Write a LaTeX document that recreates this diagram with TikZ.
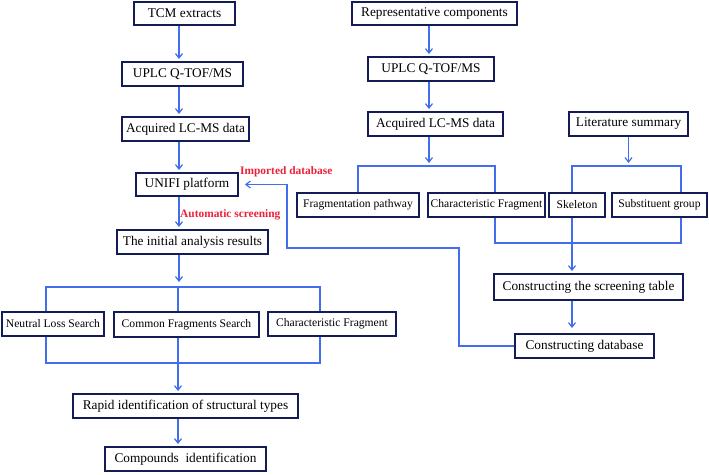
\documentclass[tikz,border=0pt]{standalone}
\usepackage{fontspec}
\setmainfont{Liberation Serif}
\usetikzlibrary{arrows.meta}
\definecolor{linkblue}{RGB}{66,110,238}
\definecolor{boxnavy}{RGB}{20,28,88}
\definecolor{labelred}{RGB}{236,32,56}
\begin{document}
\begin{tikzpicture}[x=1pt,y=-1pt,
  box/.style={draw=boxnavy,line width=1.9pt,minimum height=24pt,inner sep=0pt,font=\fontsize{13.3}{15}\selectfont},
  smallbox/.style={box,font=\fontsize{11.6}{13}\selectfont},
  link/.style={draw=linkblue,line width=1.2pt},
  arr/.style={link,-{Straight Barb[length=4.5pt,width=7pt]},shorten >=2pt},
  note/.style={text=labelred,font=\fontsize{11.4}{13}\selectfont\bfseries,inner sep=0pt}]
\useasboundingbox (0,0) rectangle (709,474);

\node[box,minimum width=101pt,minimum height=23pt] (tcm) at (184.5,13.5) {TCM extracts};
\node[box,minimum width=121pt] (uplcL) at (182.5,74) {UPLC Q-TOF/MS};
\node[box,minimum width=127pt] (acqL) at (185.5,129) {Acquired LC-MS data};
\node[box,minimum width=102pt,minimum height=23pt] (unifi) at (187,184.5) {UNIFI platform};
\node[box,minimum width=151pt] (init) at (192.5,242) {The initial analysis results};
\node[smallbox,minimum width=102pt] (nls) at (53,324) {Neutral Loss Search};
\node[smallbox,minimum width=145pt,minimum height=25pt] (cfs) at (186.5,324.5) {Common Fragments Search};
\node[smallbox,minimum width=128pt] (chfL) at (332,324) {Characteristic Fragment};
\node[box,minimum width=225pt] (rapid) at (185.5,406) {Rapid identification of structural types};
\node[box,minimum width=161pt] (comp) at (185.5,459) {Compounds\ \ identification};

\node[box,minimum width=165pt,minimum height=23pt] (rep) at (434.5,13.5) {Representative components};
\node[box,minimum width=126pt] (uplcR) at (431,69) {UPLC Q-TOF/MS};
\node[box,minimum width=135pt] (acqR) at (435.5,124) {Acquired LC-MS data};
\node[box,minimum width=119pt] (lit) at (628.5,124) {Literature summary};
\node[smallbox,minimum width=122pt] (frag) at (358,205) {Fragmentation pathway};
\node[smallbox,minimum width=117pt] (chfR) at (486.5,205) {Characteristic Fragment};
\node[smallbox,minimum width=56pt] (skel) at (577,205) {Skeleton};
\node[smallbox,minimum width=95pt] (subst) at (659.5,205) {Substituent group};
\node[box,minimum width=189pt,minimum height=26pt] (table) at (588.5,287) {Constructing the screening table};
\node[box,minimum width=139pt] (db) at (584.5,346) {Constructing database};

\node[note,anchor=west] (imported) at (240,172) {Imported database};
\node[note,anchor=west] (autoscr) at (180,215) {Automatic screening};

\coordinate (spine) at (179,0);
\coordinate (topA) at (46,287);
\coordinate (topB) at (178,287);
\coordinate (topC) at (320,287);
\coordinate (botA) at (46,363);
\coordinate (botB) at (178,363);
\coordinate (botC) at (320,363);
\draw[arr] (tcm.south -| spine) -- (uplcL.north -| spine);
\draw[arr] (uplcL.south -| spine) -- (acqL.north -| spine);
\draw[arr] (acqL.south -| spine) -- (unifi.north -| spine);
\draw[arr] (unifi.south -| spine) -- (init.north -| spine);
\draw[arr,shorten >=5pt] (init.south -| spine) -- (topB -| spine);
\draw[link] (nls.north -| topA) -- (topA) -- (topC) -- (chfL.north -| topC);
\draw[link] (cfs.north -| topB) -- (topB);
\draw[link] (nls.south -| botA) -- (botA) -- (botC) -- (chfL.south -| botC);
\draw[link] (cfs.south -| botB) -- (botB);
\draw[arr] (botB) -- (rapid.north -| botB);
\draw[arr] (rapid.south -| botB) -- (comp.north -| botB);

\coordinate (spineR) at (429,0);
\coordinate (fragA) at (358,166);
\coordinate (fragB) at (495,166);
\coordinate (litA) at (572,166);
\coordinate (litB) at (681,166);
\coordinate (joinA) at (495,243);
\coordinate (joinB) at (572,243);
\coordinate (joinC) at (681,243);
\draw[arr] (rep.south -| spineR) -- (uplcR.north -| spineR);
\draw[arr] (uplcR.south -| spineR) -- (acqR.north -| spineR);
\draw[arr,shorten >=3pt] (acqR.south -| spineR) -- (spineR |- fragA);
\draw[link] (frag.north -| fragA) -- (fragA) -- (fragB) -- (chfR.north -| fragB);
\draw[arr,shorten >=3pt] (lit.south) -- (lit.south |- litA);
\draw[link] (skel.north -| litA) -- (litA) -- (litB) -- (subst.north -| litB);
\draw[link] (chfR.south -| joinA) -- (joinA) -- (joinC) -- (subst.south -| joinC);
\draw[link] (skel.south -| joinB) -- (joinB);
\draw[arr] (joinB) -- (table.north -| joinB);
\draw[arr,shorten >=5pt] (table.south -| joinB) -- (db.north -| joinB);
\draw[arr,shorten >=6pt] (db.west) -| (459,248) -- (287,248) |- (unifi.east);
\end{tikzpicture}
\end{document}
